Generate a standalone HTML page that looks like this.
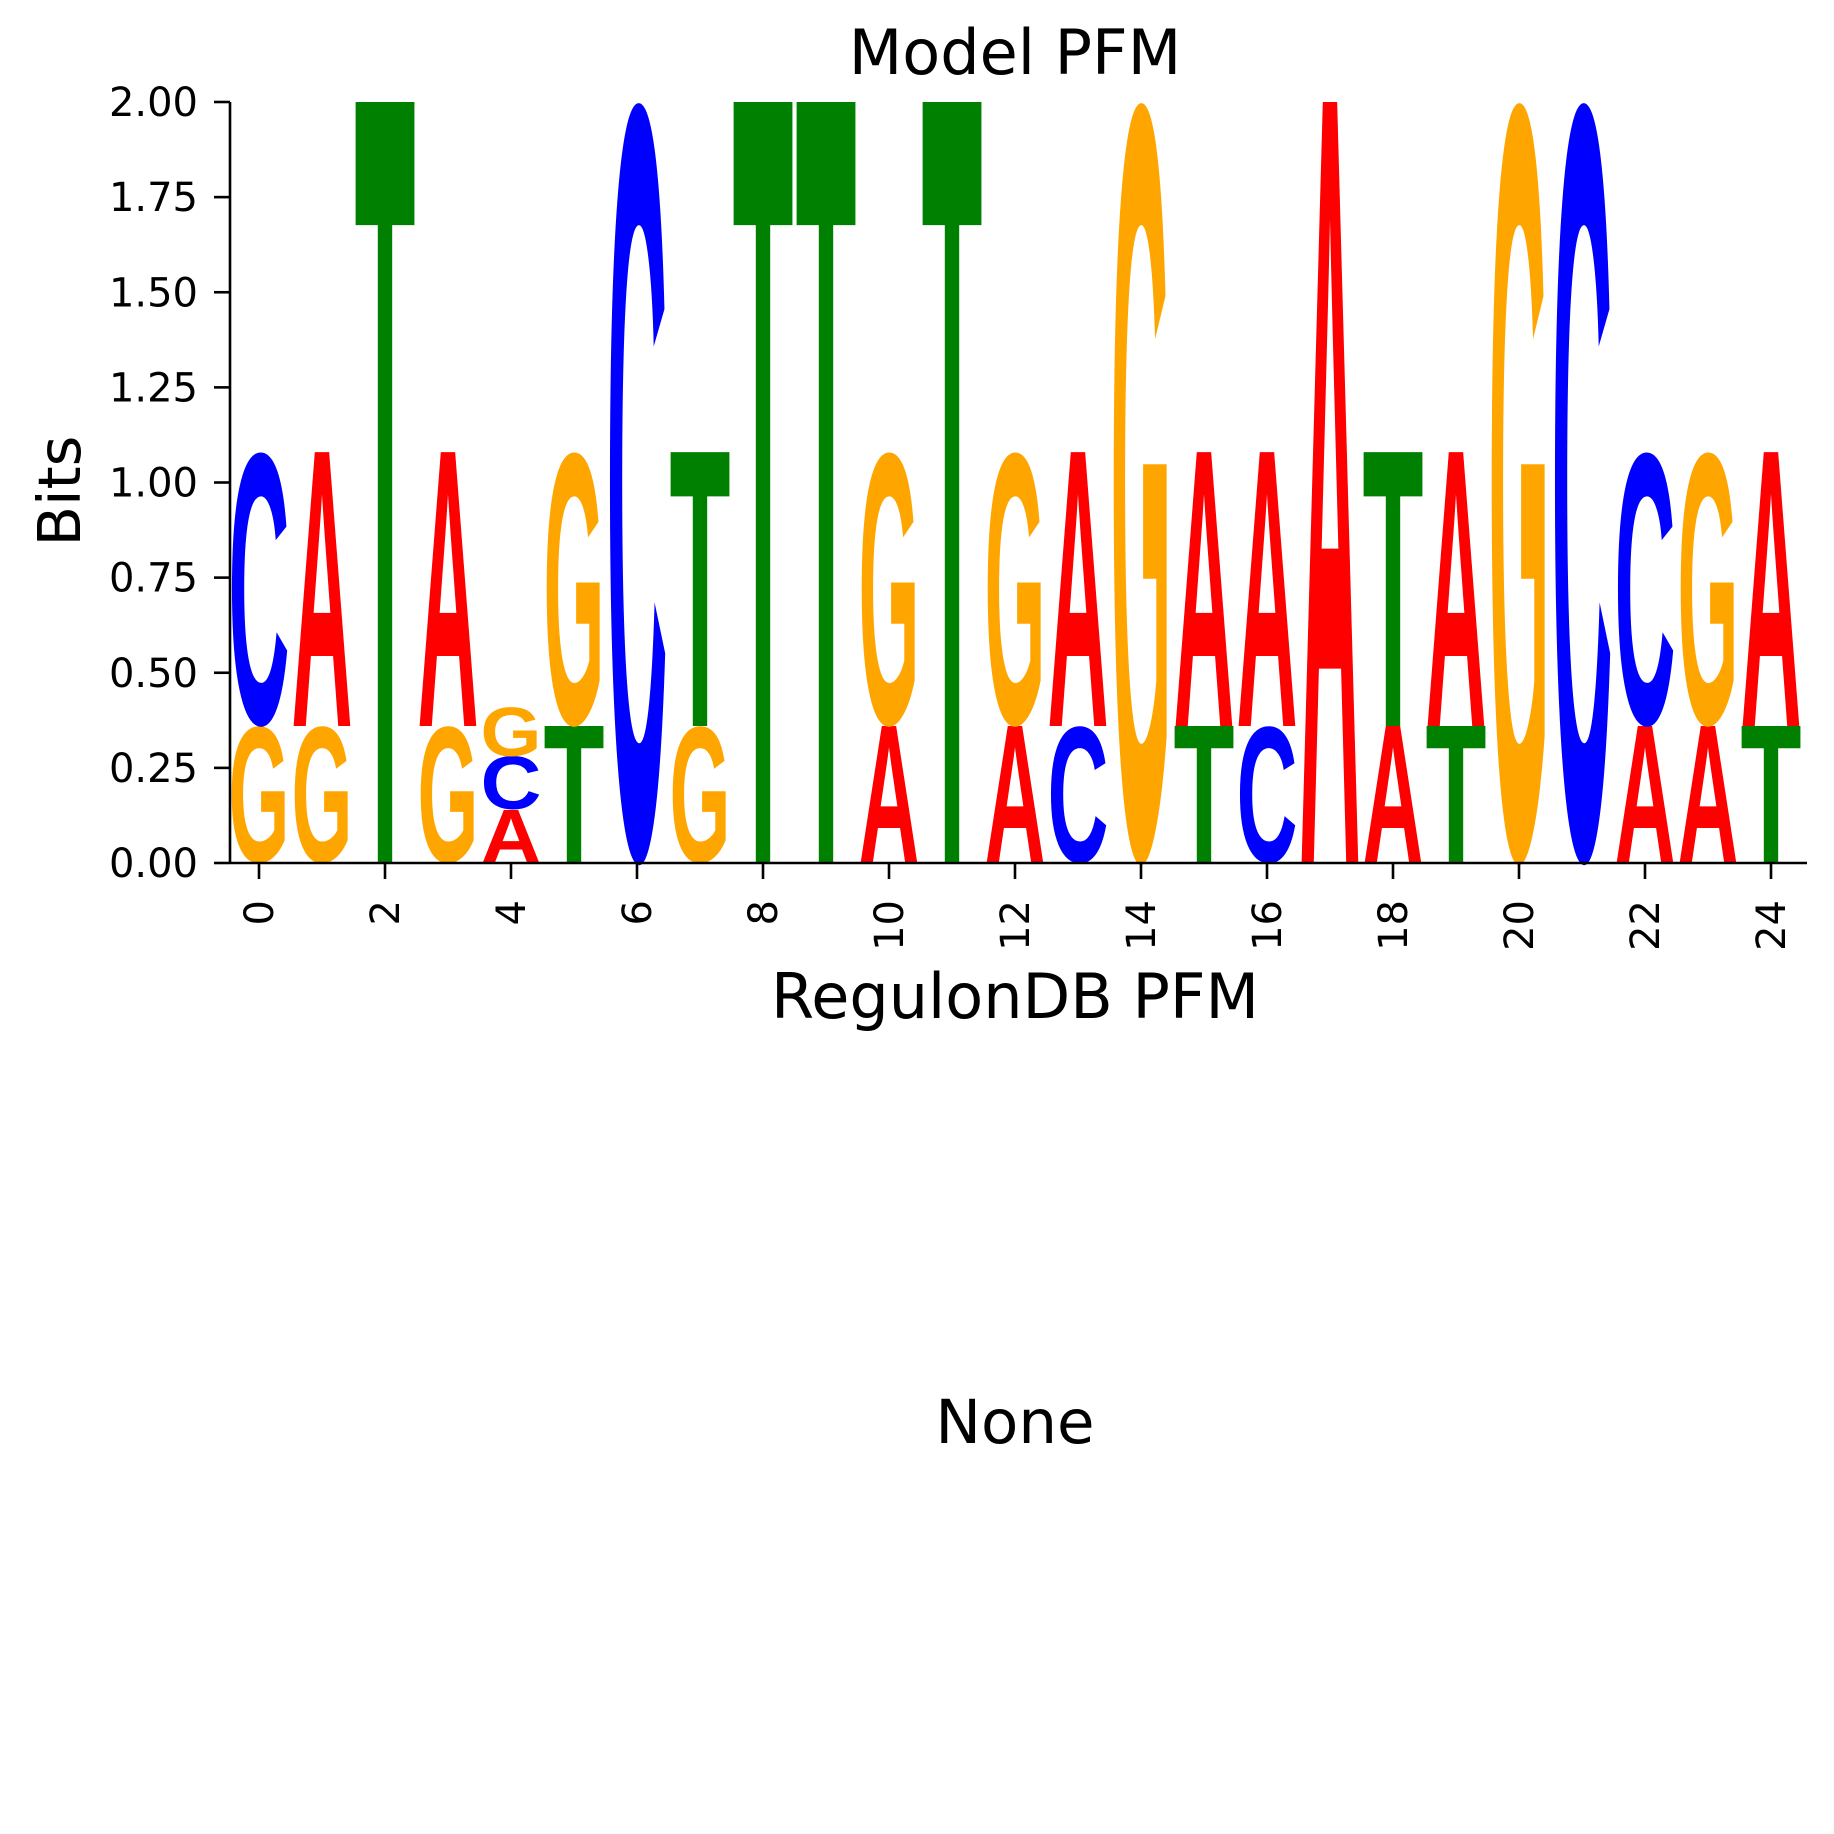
<!DOCTYPE html>
<html><head><meta charset="utf-8"><style>
html,body{margin:0;padding:0;background:#fff}
svg{display:block}
</style></head><body>
<svg id="chart" width="1834" height="1834" viewBox="0 0 1834 1834" xmlns="http://www.w3.org/2000/svg" font-family="'DejaVu Sans','Liberation Sans',sans-serif">
<rect width="1834" height="1834" fill="#fff"/>
<text x="1015" y="74" font-size="62" text-anchor="middle">Model PFM</text>
<text x="1015" y="1018" font-size="62" text-anchor="middle">RegulonDB PFM</text>
<text x="1015" y="1443" font-size="61" text-anchor="middle">None</text>
<text transform="translate(80,491) rotate(-90)" font-size="59" text-anchor="middle">Bits</text>
<g id="letters"></g>
<g id="axes"></g>
</svg>
<script>
// stacks bottom -> top: letter and height in bits
const positions = [0,1,2,3,4,5,6,7,8,9,10,11,12,13,14,15,16,17,18,19,20,21,22,23,24];
const stackLetters = [
 ["G","C"],["G","A"],["T"],["G","A"],["A","C","G"],["T","G"],["C"],["G","T"],["T"],["T"],
 ["A","G"],["T"],["A","G"],["C","A"],["G"],["T","A"],["C","A"],["A"],["A","T"],["T","A"],
 ["G"],["C"],["A","C"],["A","G"],["T","A"]
];
const stackHeights = [
 [0.36,0.72],[0.36,0.72],[2.0],[0.36,0.72],[0.14,0.14,0.13],[0.36,0.72],[2.0],[0.36,0.72],[2.0],[2.0],
 [0.36,0.72],[2.0],[0.36,0.72],[0.36,0.72],[2.0],[0.36,0.72],[0.36,0.72],[2.0],[0.36,0.72],[0.36,0.72],
 [2.0],[2.0],[0.36,0.72],[0.36,0.72],[0.36,0.72]
];
const yTicks = [0,0.25,0.5,0.75,1.0,1.25,1.5,1.75,2.0];
const yTickLabels = ["0.00","0.25","0.50","0.75","1.00","1.25","1.50","1.75","2.00"];
const xTicks = [0,2,4,6,8,10,12,14,16,18,20,22,24];

const NS="http://www.w3.org/2000/svg";
const colors={A:"#ff0000",C:"#0000ff",G:"#ffa500",T:"#008000"};
const x0=259, dx=63.0, y0=863, ky=380.5;
const xs=v=>x0+v*dx, ys=v=>y0-v*ky;
const LW=61, FS=100;
const lg=document.getElementById('letters');
positions.forEach((p,i)=>{
  let base=0;
  stackLetters[i].forEach((L,j)=>{
    const h=stackHeights[i][j];
    const round=(L==="C"||L==="G");
    const cap=round?0.707:0.688;
    const under=round?0.0077:0;
    const pxh=h*ky;
    const sy=pxh/(FS*cap);
    const yb=ys(base)-under*FS*sy;
    const t=document.createElementNS(NS,'text');
    
    
    t.setAttribute('x',xs(p)-LW/2);
    t.setAttribute('y',0);
    t.setAttribute('font-size',FS);
    t.setAttribute('font-weight','bold');
    t.setAttribute('font-family',"'Liberation Sans',sans-serif");
    t.setAttribute('textLength',LW);
    t.setAttribute('lengthAdjust','spacingAndGlyphs');
    t.setAttribute('fill',colors[L]);
    t.setAttribute('transform','translate(0,'+yb+') scale(1,'+sy+')');
    t.textContent=L;
    lg.appendChild(t);
    base+=h;
  });
});
const ax=document.getElementById('axes');
function line(x1,y1,x2,y2,name){
  const l=document.createElementNS(NS,'line');
  
  
  l.setAttribute('x1',x1);l.setAttribute('y1',y1);l.setAttribute('x2',x2);l.setAttribute('y2',y2);
  l.setAttribute('stroke','#000');l.setAttribute('stroke-width',2.6);
  ax.appendChild(l);
}
line(230,ys(2),230,y0,'y-axis-line');
line(230,y0,1807,y0,'x-axis-line');
yTicks.forEach((v,i)=>{
  line(214,ys(v),230,ys(v),'y-tick');
  const t=document.createElementNS(NS,'text');
  
  
  t.setAttribute('x',198);t.setAttribute('y',ys(v)+14);
  t.setAttribute('font-size',40);t.setAttribute('text-anchor','end');
  t.textContent=yTickLabels[i];
  ax.appendChild(t);
});
xTicks.forEach(v=>{
  line(xs(v),y0,xs(v),y0+16,'x-tick');
  const t=document.createElementNS(NS,'text');
  
  
  t.setAttribute('transform','translate('+(xs(v)+14)+',900) rotate(-90)');
  t.setAttribute('font-size',40);t.setAttribute('text-anchor','end');
  t.textContent=String(v);
  ax.appendChild(t);
});
</script>
</body></html>
